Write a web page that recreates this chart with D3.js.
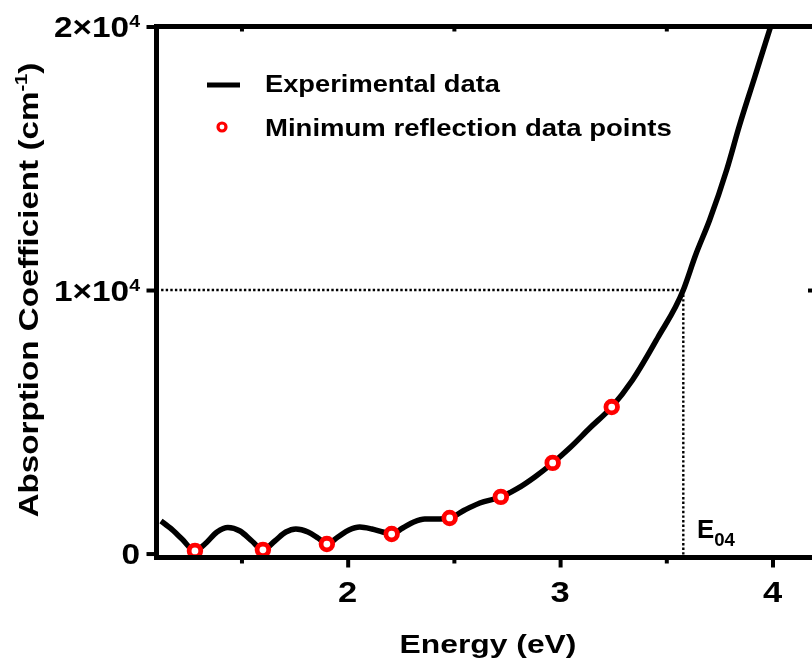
<!DOCTYPE html>
<html>
<head>
<meta charset="utf-8">
<script src="https://cdn.jsdelivr.net/npm/d3@7"></script>
<style>
  html, body { margin: 0; padding: 0; background: #fff; overflow: hidden; width: 812px; height: 665px; }
  ::-webkit-scrollbar { display: none; width: 0; height: 0; }
  svg { display: block; position: fixed; left: 0; top: 0; }
  text { font-family: "Liberation Sans", Arial, sans-serif; font-weight: bold; fill: #000; }
</style>
</head>
<body>
<svg id="chart" width="812" height="665"></svg>
<script>
// Absorption spectrum (photon energy in eV, alpha in cm^-1)
const energy = [1.121, 1.164, 1.220, 1.281, 1.328, 1.385, 1.436, 1.493, 1.549, 1.601,
  1.657, 1.709, 1.756, 1.813, 1.860, 1.902, 1.954, 2.006, 2.057, 2.114,
  2.165, 2.207, 2.259, 2.311, 2.363, 2.433, 2.480, 2.551, 2.622, 2.721,
  2.796, 2.881, 2.965, 3.045, 3.140, 3.243, 3.341, 3.459, 3.580, 3.638,
  3.704, 3.784, 3.845, 3.915, 3.986, 4.024];
const absorption = [1235, 970, 552, 97, 362, 818, 989, 856, 476, 135,
  476, 818, 932, 818, 590, 362, 628, 894, 1008, 932,
  818, 742, 970, 1197, 1311, 1311, 1349, 1653, 1918, 2146,
  2450, 2905, 3436, 4005, 4764, 5561, 6586, 8180, 10000, 11329,
  12657, 14555, 16262, 18046, 19867, 20816];

// Points taken at the reflection minima
const minEnergy = [1.281, 1.601, 1.902, 2.207, 2.480, 2.721, 2.965, 3.243];
const minAbsorption = [100, 140, 360, 740, 1350, 2150, 3440, 5560];

// E04: energy where alpha reaches 1e4 cm^-1
const e04 = 3.58;
const alphaRef = 10000;

// Axes
const xDomain = [1.1, 4.2];
const yDomain = [-150, 20000];
const xMajor = [2, 3, 4];
const xMinor = [1.5, 2.5, 3.5];
const yMajor = [0, 10000, 20000];
const yTickText = [["0", ""], ["1×10", "4"], ["2×10", "4"]];

const legendLabels = ["Experimental data", "Minimum reflection data points"];

const svg = d3.select("#chart");
const x = d3.scaleLinear().domain(xDomain).range([156.5, 815]);
const y = d3.scaleLinear().domain(yDomain).range([557.5, 26.5]);
const [x0, x1] = x.range();
const [yb, yt] = y.range();

svg.append("defs").append("clipPath").attr("id", "plot-clip")
  .append("rect").attr("x", x0).attr("y", yt).attr("width", x1 - x0).attr("height", yb - yt);

// Places a text and stretches it horizontally to a target width
function placeText(parent, px, py, rot, anchor, width) {
  const g = parent.append("g");
  const t = g.append("text").attr("text-anchor", anchor);
  return {
    text: t,
    fit() {
      const w = t.node().getComputedTextLength();
      const s = width ? width / w : 1.15;
      g.attr("transform", `translate(${px},${py}) rotate(${rot}) scale(${s},1)`);
    }
  };
}

// Reference guides at alpha = 1e4 and E04
const guides = svg.append("g").attr("fill", "none").attr("stroke", "#000")
  .attr("stroke-width", 2.4).attr("stroke-dasharray", "2.4,2.2");
guides.append("line").attr("x1", x0).attr("x2", x(e04)).attr("y1", y(alphaRef)).attr("y2", y(alphaRef));
guides.append("line").attr("x1", x(e04)).attr("x2", x(e04)).attr("y1", y(alphaRef)).attr("y2", yb);

// Spectrum
const line = d3.line().x((d, i) => x(energy[i])).y((d, i) => y(absorption[i])).curve(d3.curveMonotoneX);
svg.append("path").datum(absorption).attr("clip-path", "url(#plot-clip)")
  .attr("d", line).attr("fill", "none").attr("stroke", "#000")
  .attr("stroke-width", 5.5).attr("stroke-linejoin", "round");

// Minimum reflection markers
svg.append("g").selectAll("circle").data(minAbsorption).join("circle")
  .attr("cx", (d, i) => x(minEnergy[i])).attr("cy", d => y(d))
  .attr("r", 5.8).attr("fill", "#fff").attr("stroke", "#ff0000").attr("stroke-width", 4.8);

// Tick marks
function tickStyle(g) {
  g.select(".domain").remove();
  g.selectAll(".tick line").attr("stroke", "#000").attr("stroke-width", 4);
  g.selectAll(".tick text").remove();
}
svg.append("g").attr("transform", `translate(0,${yb})`)
  .call(d3.axisBottom(x).tickValues(xMajor).tickSize(10).tickFormat("")).call(tickStyle);
svg.append("g").attr("transform", `translate(0,${yb})`)
  .call(d3.axisBottom(x).tickValues(xMinor).tickSize(6).tickFormat("")).call(tickStyle);
svg.append("g").attr("transform", `translate(${x0},0)`)
  .call(d3.axisLeft(y).tickValues(yMajor).tickSize(10).tickFormat("")).call(tickStyle);
// Inward ticks on the top and right sides
svg.append("g").attr("transform", `translate(0,${yt})`)
  .call(d3.axisBottom(x).tickValues(xMinor).tickSize(5).tickFormat("")).call(tickStyle);
svg.append("g").attr("transform", `translate(${x1},0)`)
  .call(d3.axisLeft(y).tickValues(yMajor.slice(1, -1)).tickSize(7).tickFormat("")).call(tickStyle);

// Frame
svg.append("rect").attr("x", x0).attr("y", yt).attr("width", x1 - x0).attr("height", yb - yt)
  .attr("fill", "none").attr("stroke", "#000").attr("stroke-width", 5);

// Tick labels
xMajor.forEach(v => {
  const lab = placeText(svg, x(v), 602, 0, "middle");
  lab.text.style("font-size", "30px").text(d3.format("d")(v));
  lab.fit();
});
yMajor.forEach((v, i) => {
  const lab = placeText(svg, 140, y(v) + 10.5, 0, "end");
  lab.text.style("font-size", "29px").append("tspan").text(yTickText[i][0]);
  if (yTickText[i][1]) {
    lab.text.append("tspan").attr("dy", -10).style("font-size", "17px").text(yTickText[i][1]);
  }
  lab.fit();
});

// Axis titles
const xt = placeText(svg, 488, 653, 0, "middle", 177);
xt.text.style("font-size", "25px").text("Energy (eV)");
xt.fit();

const ytl = placeText(svg, 38, 290, -90, "middle", 455);
ytl.text.style("font-size", "28px");
ytl.text.append("tspan").text("Absorption Coefficient (cm");
ytl.text.append("tspan").attr("dy", -11).style("font-size", "17px").text("-1");
ytl.text.append("tspan").attr("dy", 11).text(")");
ytl.fit();

// E04 annotation
const e04Label = placeText(svg, 697, 538, 0, "start", 38);
e04Label.text.style("font-size", "25px").append("tspan").text("E");
e04Label.text.append("tspan").attr("dy", 8).style("font-size", "18px").text("04");
e04Label.fit();

// Legend
const legend = svg.append("g");
legend.append("line").attr("x1", 207).attr("x2", 240).attr("y1", 85).attr("y2", 85)
  .attr("stroke", "#000").attr("stroke-width", 5);
legend.append("circle").attr("cx", 222).attr("cy", 127).attr("r", 4)
  .attr("fill", "#fff").attr("stroke", "#ff0000").attr("stroke-width", 3.2);
const l1 = placeText(legend, 265, 92, 0, "start", 235);
l1.text.style("font-size", "24px").text(legendLabels[0]);
l1.fit();
const l2 = placeText(legend, 265, 136, 0, "start", 407);
l2.text.style("font-size", "24px").text(legendLabels[1]);
l2.fit();
</script>
</body>
</html>
